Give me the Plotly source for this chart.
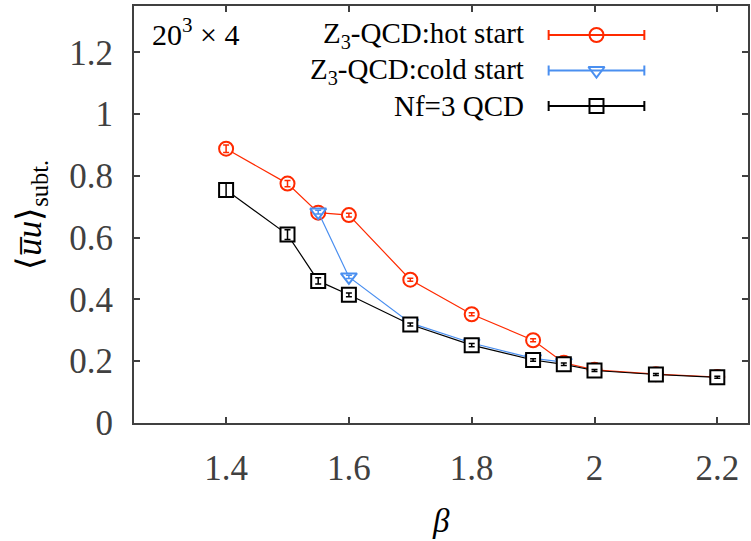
import plotly.graph_objects as go

# ---- data ----
beta_hot = [1.4, 1.5, 1.55, 1.6, 1.7, 1.8, 1.9, 1.95, 2.0, 2.1, 2.2]
val_hot = [0.888, 0.775, 0.681, 0.673, 0.464, 0.352, 0.268, 0.195, 0.172, 0.158, 0.149]
err_hot = [0.012, 0.010, 0.008, 0.006, 0.005, 0.005, 0.005, 0.004, 0.004, 0.004, 0.003]

beta_cold = [1.55, 1.6, 1.7, 1.8, 1.9, 1.95]
val_cold = [0.683, 0.473, 0.324, 0.259, 0.209, 0.197]
err_cold = [0.006, 0.005, 0.005, 0.004, 0.004, 0.004]

beta_nf3 = [1.4, 1.5, 1.55, 1.6, 1.7, 1.8, 1.9, 1.95, 2.0, 2.1, 2.2]
val_nf3 = [0.754, 0.610, 0.460, 0.415, 0.319, 0.252, 0.204, 0.190, 0.170, 0.157, 0.148]
err_nf3 = [0.022, 0.016, 0.010, 0.006, 0.005, 0.005, 0.004, 0.004, 0.003, 0.003, 0.003]

x_ticks = [1.4, 1.6, 1.8, 2.0, 2.2]
x_ticklabels = ["1.4", "1.6", "1.8", "2", "2.2"]
y_ticks = [0, 0.2, 0.4, 0.6, 0.8, 1.0, 1.2]
y_ticklabels = ["0", "0.2", "0.4", "0.6", "0.8", "1", "1.2"]

series_names = ["Z<sub>3</sub>-QCD:hot start", "Z<sub>3</sub>-QCD:cold start", "Nf=3 QCD"]

RED = "#ff2a00"
BLUE = "#4a8ff0"
BLACK = "#000000"
AXC = "#404040"
FONT = "Liberation Serif"

W, H = 751, 541
L, R, T, B = 134, 1, 6, 118
PW = W - L - R
PH = H - T - B

series = [
    (beta_hot, val_hot, err_hot, RED, "circle", 14),
    (beta_cold, val_cold, err_cold, BLUE, "triangle-down", 14),
    (beta_nf3, val_nf3, err_nf3, BLACK, "square", 14),
]

fig = go.Figure()
for xs, ys, es, col, sym, sz in series:
    fig.add_trace(go.Scatter(
        x=xs, y=ys, mode="lines+markers",
        line=dict(color=col, width=1.2),
        marker=dict(symbol=sym, size=sz, color="white", line=dict(color=col, width=2)),
        showlegend=False, cliponaxis=False,
    ))
    fig.add_trace(go.Scatter(
        x=xs, y=ys, mode="markers",
        marker=dict(size=1, color="rgba(0,0,0,0)"),
        error_y=dict(type="data", array=es, color=col, thickness=1.5, width=3),
        showlegend=False, cliponaxis=False,
    ))

# ---- custom legend (text left, sample right, gnuplot style) ----
leg_rows = [35, 70.5, 106]
leg_x_mark = 598
leg_half = 48
for (xs, ys, es, col, sym, sz), name, ry in zip(series, series_names, leg_rows):
    fig.add_trace(go.Scatter(
        x=[leg_x_mark], y=[ry], mode="markers", xaxis="x2", yaxis="y2",
        marker=dict(symbol=sym + "-open", size=sz, color=col, line=dict(color=col, width=2)),
        error_x=dict(type="data", array=[leg_half], color=col, thickness=2, width=5),
        showlegend=False, cliponaxis=False,
    ))
    fig.add_annotation(
        x=(527 - L) / PW, y=(H - B - ry) / PH, xref="paper", yref="paper",
        text=name, showarrow=False, xanchor="right", yanchor="middle",
        font=dict(family=FONT, size=29, color="black"),
    )

# inset label
fig.add_annotation(
    x=(150 - L) / PW, y=(H - B - 32) / PH, xref="paper", yref="paper",
    text="20<sup>3</sup> × 4", showarrow=False, xanchor="left", yanchor="middle",
    font=dict(family=FONT, size=30, color="black"),
)
# y title
fig.add_annotation(
    x=(31 - L) / PW, y=0.5, xref="paper", yref="paper",
    text="⟨<i>u̅u</i>⟩<sub>subt.</sub>", showarrow=False, textangle=-90,
    xanchor="center", yanchor="middle",
    font=dict(family=FONT, size=35, color="black"),
)
# x title
fig.add_annotation(
    x=0.5, y=-(521 - (H - B)) / PH, xref="paper", yref="paper",
    text="<i>β</i>", showarrow=False, xanchor="center", yanchor="middle",
    font=dict(family=FONT, size=33, color="black"),
)

fig.update_layout(
    width=W, height=H,
    margin=dict(l=L, r=R, t=T, b=B),
    paper_bgcolor="white", plot_bgcolor="white",
    showlegend=False,
    xaxis=dict(
        range=[1.25, 2.25], tickvals=x_ticks, ticktext=x_ticklabels,
        ticks="inside", ticklen=6, tickwidth=1.5, tickcolor=AXC,
        showline=True, linecolor=AXC, linewidth=2, mirror="ticks",
        showgrid=False, zeroline=False,
        tickfont=dict(family=FONT, size=35, color=AXC),
        ticklabelstandoff=13,
    ),
    yaxis=dict(
        range=[0, 1.35], tickvals=y_ticks, ticktext=y_ticklabels,
        ticks="inside", ticklen=6, tickwidth=1.5, tickcolor=AXC,
        showline=True, linecolor=AXC, linewidth=2, mirror="ticks",
        showgrid=False, zeroline=False,
        tickfont=dict(family=FONT, size=35, color=AXC),
        ticklabelstandoff=12,
    ),
    xaxis2=dict(range=[L, L + PW], overlaying="x", visible=False, fixedrange=True),
    yaxis2=dict(range=[H - B, T], overlaying="y", visible=False, fixedrange=True),
)

fig.write_html(
    "out.html",
    config={"displayModeBar": False},
    post_script="document.body.style.margin='0';document.body.style.padding='0';document.body.style.overflow='hidden';",
)
